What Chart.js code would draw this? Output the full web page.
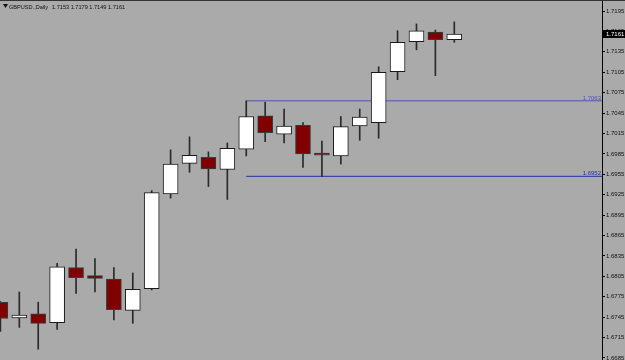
<!DOCTYPE html>
<html><head><meta charset="utf-8">
<script src="https://cdn.jsdelivr.net/npm/chart.js@4/dist/chart.umd.min.js"></script>
<style>html,body{margin:0;padding:0;background:#aaaaaa;overflow:hidden}canvas{display:block}</style>
</head><body>
<canvas id="c" width="625" height="360"></canvas>
<script>
const symbolTitle = 'GBPUSD.,Daily';
const barIndex = [0,1,2,3,4,5,6,7,8,9,10,11,12,13,14,15,16,17,18,19,20,21,22,23,24];
const opens  = [1.6767,1.6744,1.6750,1.6737,1.6818,1.6806,1.6801,1.6755,1.6787,1.6926,1.6971,1.6980,1.6962,1.6992,1.7041,1.7014,1.7027,1.6986,1.6982,1.7026,1.7031,1.7106,1.7150,1.7164,1.7153];
const highs  = [1.6768,1.6782,1.6767,1.6824,1.6845,1.6831,1.6818,1.6810,1.6931,1.6991,1.7010,1.6988,1.7001,1.7063,1.7061,1.7051,1.7031,1.7004,1.7040,1.7051,1.7113,1.7166,1.7176,1.7167,1.7179];
const lows   = [1.6724,1.6730,1.6698,1.6727,1.6780,1.6782,1.6741,1.6736,1.6785,1.6920,1.6958,1.6937,1.6918,1.6982,1.7003,1.7001,1.6965,1.6952,1.6970,1.7005,1.7008,1.7094,1.7138,1.7100,1.7149];
const closes = [1.6743,1.6748,1.6736,1.6819,1.6803,1.6802,1.6756,1.6786,1.6928,1.6970,1.6983,1.6963,1.6993,1.7040,1.7016,1.7026,1.6985,1.6983,1.7025,1.7039,1.7105,1.7149,1.7166,1.7153,1.7161];
const tickLabels = ['1.6685','1.6715','1.6745','1.6775','1.6805','1.6835','1.6865','1.6895','1.6925','1.6955','1.6985','1.7015','1.7045','1.7075','1.7105','1.7135','1.7165','1.7195'];
const levelPrices = [1.7063, 1.6952];
const levelStartBar = [13, 13];
const levelColors = ['#5252b4', '#2233a8'];

const X_MIN = -0.021, X_MAX = 31.81;
const Y_MIN = 1.668206, Y_MAX = 1.721117;

const bull = i => closes[i] >= opens[i];
const bodyData = barIndex.map(i => ({x: i, y: [opens[i], closes[i]]}));
const wickData = barIndex.map(i => ({x: i, y: [lows[i], highs[i]]}));

const levelDatasets = levelPrices.map((p, k) => ({
  type: 'line',
  data: [{x: levelStartBar[k], y: p}, {x: X_MAX, y: p}],
  borderColor: levelColors[k], borderWidth: 1, pointRadius: 0, order: 5, clip: false
}));

const overlay = {
  id: 'overlay',
  afterDraw(chart) {
    const ctx = chart.ctx, y = chart.scales.y, area = chart.chartArea;
    ctx.save();
    // top border
    ctx.fillStyle = '#333';
    ctx.fillRect(0, 0, 625, 1);
    // header
    ctx.fillStyle = '#111';
    ctx.beginPath(); ctx.moveTo(3, 4); ctx.lineTo(8, 4); ctx.lineTo(5.5, 8); ctx.closePath(); ctx.fill();
    ctx.font = '5.6px "Liberation Sans", Arial, sans-serif';
    ctx.textBaseline = 'alphabetic';
    ctx.textAlign = 'left';
    const last = barIndex.length - 1;
    ctx.fillText(symbolTitle, 9, 9);
    ctx.fillText([opens[last], highs[last], lows[last], closes[last]].map(v => v.toFixed(4)).join(' '), 52, 9);
    // level labels
    ctx.font = '6px "Liberation Sans", Arial, sans-serif';
    ctx.textAlign = 'right';
    ctx.textBaseline = 'bottom';
    levelPrices.forEach((p, k) => {
      ctx.fillStyle = levelColors[k];
      ctx.fillText(p.toFixed(4), area.right - 1, Math.round(y.getPixelForValue(p)));
    });
    // current price box
    const cy = y.getPixelForValue(closes[last]);
    ctx.fillStyle = '#000';
    ctx.fillRect(area.right, Math.round(cy) - 4, 625 - area.right, 8);
    ctx.fillStyle = '#fff';
    ctx.textAlign = 'left';
    ctx.textBaseline = 'middle';
    ctx.fillText(closes[last].toFixed(4), area.right + 4, cy);
    ctx.restore();
  }
};

new Chart(document.getElementById('c'), {
  type: 'bar',
  data: {
    datasets: [
      {
        data: bodyData, grouped: false, barThickness: 15, order: 1,
        backgroundColor: barIndex.map(i => bull(i) ? '#ffffff' : '#800000'),
        borderColor: barIndex.map(i => bull(i) ? '#1a1a1a' : '#2d4040'),
        borderWidth: 1, borderSkipped: false
      },
      {
        data: wickData, grouped: false, barThickness: 1, order: 2,
        backgroundColor: '#2a2a2a', borderWidth: 0
      },
      ...levelDatasets
    ]
  },
  options: {
    responsive: false, animation: false, devicePixelRatio: 1,
    layout: {padding: 0},
    plugins: {legend: {display: false}, tooltip: {enabled: false}},
    scales: {
      x: {type: 'linear', display: false, min: X_MIN, max: X_MAX, offset: false},
      y: {
        type: 'linear', position: 'right', min: Y_MIN, max: Y_MAX,
        afterBuildTicks: s => { s.ticks = tickLabels.map(t => ({value: parseFloat(t)})); },
        afterFit: s => { s.width = 23; s.paddingTop = 0; s.paddingBottom = 0; },
        ticks: {
          autoSkip: false, padding: 1, color: '#111',
          font: {family: '"Liberation Sans", Arial, sans-serif', size: 6},
          callback: (v, idx) => tickLabels[idx]
        },
        grid: {drawOnChartArea: false, drawTicks: true, tickLength: 3, color: '#000'},
        border: {display: true, color: '#000', width: 1}
      }
    }
  },
  plugins: [overlay]
});
</script>
</body></html>
